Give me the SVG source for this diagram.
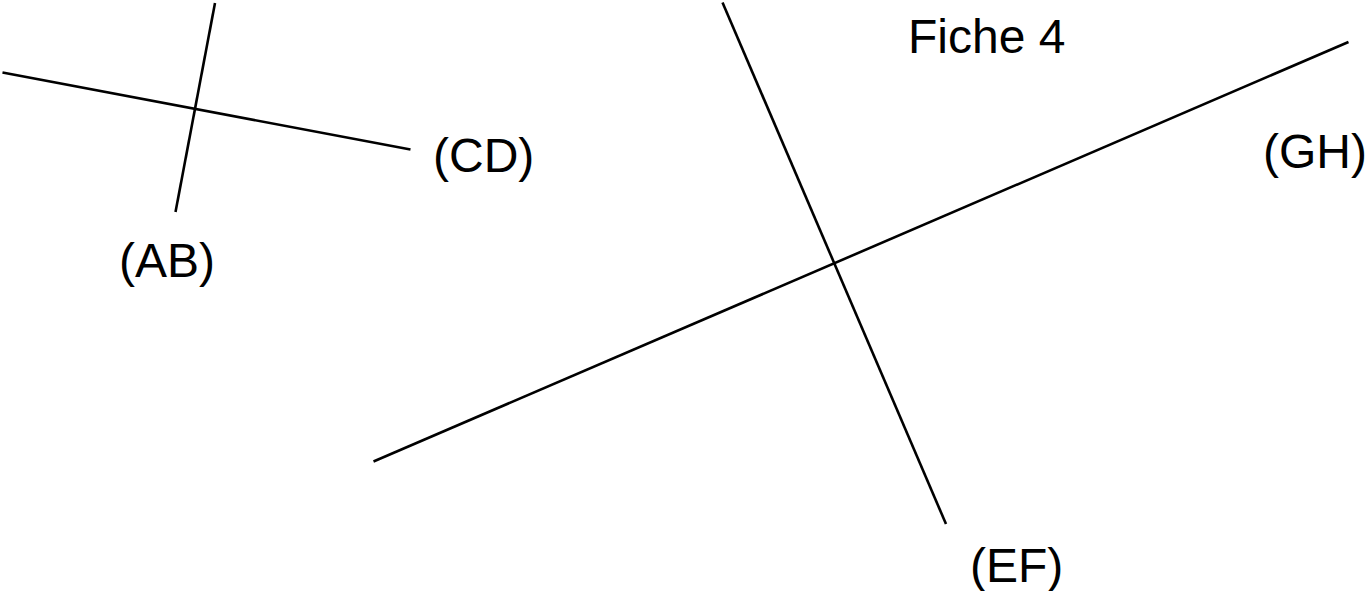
<svg xmlns="http://www.w3.org/2000/svg" width="1369" height="591" viewBox="0 0 1369 591">
<style>
.ln{stroke:#000;stroke-width:2.6;fill:none}
.lb{font-family:"Liberation Sans",Arial,sans-serif;font-size:48px;fill:#000}
</style>
<rect width="1369" height="591" fill="#fff"/>
<g id="lines">
<line id="AB" class="ln" x1="215" y1="3" x2="175.5" y2="212"/>
<line id="CD" class="ln" x1="2.5" y1="72.5" x2="410.5" y2="149.5"/>
<line id="EF" class="ln" x1="722.5" y1="2.5" x2="946" y2="524"/>
<line id="GH" class="ln" x1="373.5" y1="461.5" x2="1348.5" y2="42"/>
</g>
<g id="labels">
<text id="title" class="lb" x="908" y="53">Fiche 4</text>
<text id="lCD" class="lb" x="433" y="172">(CD)</text>
<text id="lGH" class="lb" x="1263" y="168">(GH)</text>
<text id="lAB" class="lb" x="119" y="277">(AB)</text>
<text id="lEF" class="lb" x="970" y="582">(EF)</text>
</g>
</svg>
